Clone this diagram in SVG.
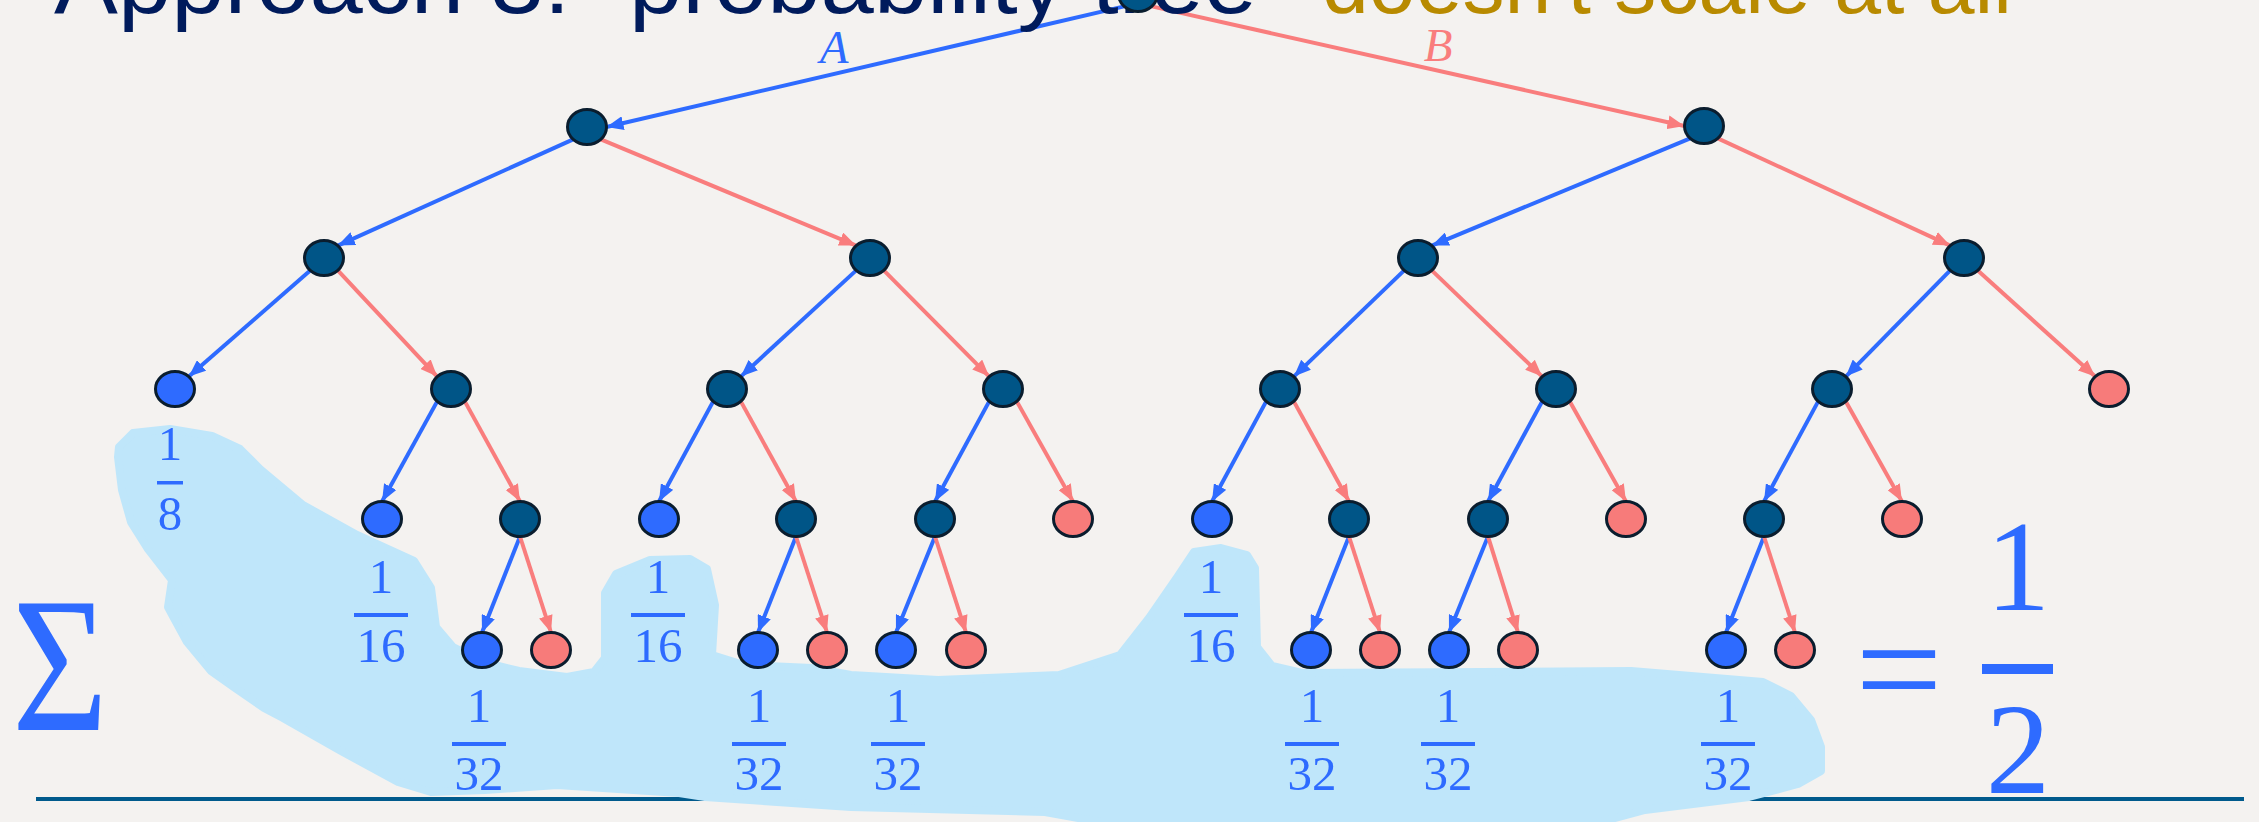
<svg xmlns="http://www.w3.org/2000/svg" width="2259" height="822" viewBox="0 0 2259 822">
<style>
.bg{fill:#F4F2F0}
.title{font-family:"Liberation Sans",Arial,sans-serif}
.navy{fill:#001B5C;font-size:91px}
.gold{fill:#B88A00;font-size:86px}
.eb{stroke:#2E6BFF;stroke-width:4;fill:none;marker-end:url(#ab)}
.ep{stroke:#F97D7D;stroke-width:4;fill:none;marker-end:url(#ap)}
.nd{fill:#005587;stroke:#0A1D2E;stroke-width:3}
.nb{fill:#2E6BFF;stroke:#0A1D2E;stroke-width:3}
.np{fill:#F77B7A;stroke:#0A1D2E;stroke-width:3}
.math{font-family:"Liberation Serif","Times New Roman",serif;fill:#2E6BFF}
.fr{font-size:49px;text-anchor:middle}
.bar{fill:#2E6BFF}
.hl{fill:#BFE6FA;stroke:#BFE6FA;stroke-width:8;stroke-linejoin:round}
.lab{font-family:"Liberation Serif","Times New Roman",serif;font-style:italic;font-size:47px;text-anchor:middle}
</style>
<defs>
<marker id="ab" markerUnits="userSpaceOnUse" markerWidth="18" markerHeight="14" refX="17" refY="7" orient="auto"><path d="M0,0 L17,7 L0,14 Z" fill="#2E6BFF"/></marker>
<marker id="ap" markerUnits="userSpaceOnUse" markerWidth="18" markerHeight="14" refX="17" refY="7" orient="auto"><path d="M0,0 L17,7 L0,14 Z" fill="#F97D7D"/></marker>
</defs>
<rect class="bg" x="0" y="0" width="2259" height="822"/>
<line x1="36" y1="799" x2="2244" y2="799" stroke="#005A8C" stroke-width="4"/>
<path id="highlight" class="hl" d="M118,457 L119,447 L133,433 L170,429 L212,436 L240,449 L260,469 L303,505 L357,535 L414,561 L431,588 L436,627 L453,647 L483,662 L519,671 L567,677 L594,672 L605,658 L605,593 L616,574 L650,560 L690,559 L707,569 L715,605 L712,655 L744,665 L812,668 L851,675 L938,680 L1059,675 L1120,655 L1149,618 L1178,576 L1194,552 L1221,548 L1247,555 L1255,568 L1257,647 L1272,666 L1302,673 L1631,671 L1763,682 L1791,696 L1811,720 L1821,747 L1821,771 L1798,784 L1749,797 L1645,810 L1600,822 L1100,822 L1045,812 L851,807 L705,797 L679,793 L557,785 L485,790 L431,792 L398,782 L341,751 L283,718 L264,708 L235,688 L211,671 L187,642 L175,620 L168,607 L172,580 L148,549 L131,522 L122,490 Z"/>
<g id="connectors">
<line class="eb" x1="1124.2" y1="6.4" x2="606.5" y2="127"/>
<line class="ep" x1="1151.8" y1="6.4" x2="1684.5" y2="126"/>
<line class="eb" x1="573.2" y1="139.4" x2="337.8" y2="245.6"/>
<line class="ep" x1="600.8" y1="139.4" x2="856.2" y2="245.6"/>
<line class="eb" x1="1690.2" y1="138.4" x2="1431.8" y2="245.6"/>
<line class="ep" x1="1717.8" y1="138.4" x2="1950.2" y2="245.6"/>
<line class="eb" x1="310.2" y1="270.4" x2="188.8" y2="376.6"/>
<line class="ep" x1="337.8" y1="270.4" x2="437.2" y2="376.6"/>
<line class="eb" x1="856.2" y1="270.4" x2="740.8" y2="376.6"/>
<line class="ep" x1="883.8" y1="270.4" x2="989.2" y2="376.6"/>
<line class="eb" x1="1404.2" y1="270.4" x2="1293.8" y2="376.6"/>
<line class="ep" x1="1431.8" y1="270.4" x2="1542.2" y2="376.6"/>
<line class="eb" x1="1950.2" y1="270.4" x2="1845.8" y2="376.6"/>
<line class="ep" x1="1977.8" y1="270.4" x2="2095.2" y2="376.6"/>
<line class="eb" x1="437.2" y1="401.4" x2="382" y2="501.5"/>
<line class="ep" x1="464.8" y1="401.4" x2="520" y2="501.5"/>
<line class="eb" x1="713.2" y1="401.4" x2="659" y2="501.5"/>
<line class="ep" x1="740.8" y1="401.4" x2="796" y2="501.5"/>
<line class="eb" x1="989.2" y1="401.4" x2="935" y2="501.5"/>
<line class="ep" x1="1016.8" y1="401.4" x2="1073" y2="501.5"/>
<line class="eb" x1="1266.2" y1="401.4" x2="1212" y2="501.5"/>
<line class="ep" x1="1293.8" y1="401.4" x2="1349" y2="501.5"/>
<line class="eb" x1="1542.2" y1="401.4" x2="1488" y2="501.5"/>
<line class="ep" x1="1569.8" y1="401.4" x2="1626" y2="501.5"/>
<line class="eb" x1="1818.2" y1="401.4" x2="1764" y2="501.5"/>
<line class="ep" x1="1845.8" y1="401.4" x2="1902" y2="501.5"/>
<line class="eb" x1="520" y1="536.5" x2="482" y2="632.5"/>
<line class="ep" x1="520" y1="536.5" x2="551" y2="632.5"/>
<line class="eb" x1="796" y1="536.5" x2="758" y2="632.5"/>
<line class="ep" x1="796" y1="536.5" x2="827" y2="632.5"/>
<line class="eb" x1="935" y1="536.5" x2="896" y2="632.5"/>
<line class="ep" x1="935" y1="536.5" x2="966" y2="632.5"/>
<line class="eb" x1="1349" y1="536.5" x2="1311" y2="632.5"/>
<line class="ep" x1="1349" y1="536.5" x2="1380" y2="632.5"/>
<line class="eb" x1="1488" y1="536.5" x2="1449" y2="632.5"/>
<line class="ep" x1="1488" y1="536.5" x2="1518" y2="632.5"/>
<line class="eb" x1="1764" y1="536.5" x2="1726" y2="632.5"/>
<line class="ep" x1="1764" y1="536.5" x2="1795" y2="632.5"/>
</g>
<g id="title" class="title">
<text class="navy" x="54" y="13" textLength="1235" lengthAdjust="spacingAndGlyphs">Approach 3: “probability tree”</text>
<text class="gold" x="1322" y="13" textLength="690" lengthAdjust="spacingAndGlyphs">doesn't scale at all</text>
</g>
<g id="edge-labels">
<text class="lab" x="834" y="63" fill="#2E6BFF">A</text>
<text class="lab" x="1438" y="61" fill="#F97D7D">B</text>
</g>
<g id="node-root"><ellipse class="nd" cx="1138" cy="-6" rx="19.5" ry="17.5"/></g>
<g id="node-A"><ellipse class="nd" cx="587" cy="127" rx="19.5" ry="17.5"/></g>
<g id="node-B"><ellipse class="nd" cx="1704" cy="126" rx="19.5" ry="17.5"/></g>
<g id="node-AA"><ellipse class="nd" cx="324" cy="258" rx="19.5" ry="17.5"/></g>
<g id="node-AB"><ellipse class="nd" cx="870" cy="258" rx="19.5" ry="17.5"/></g>
<g id="node-BA"><ellipse class="nd" cx="1418" cy="258" rx="19.5" ry="17.5"/></g>
<g id="node-BB"><ellipse class="nd" cx="1964" cy="258" rx="19.5" ry="17.5"/></g>
<g id="node-AAA"><ellipse class="nb" cx="175" cy="389" rx="19.5" ry="17.5"/></g>
<g id="node-AAB"><ellipse class="nd" cx="451" cy="389" rx="19.5" ry="17.5"/></g>
<g id="node-ABA"><ellipse class="nd" cx="727" cy="389" rx="19.5" ry="17.5"/></g>
<g id="node-ABB"><ellipse class="nd" cx="1003" cy="389" rx="19.5" ry="17.5"/></g>
<g id="node-BAA"><ellipse class="nd" cx="1280" cy="389" rx="19.5" ry="17.5"/></g>
<g id="node-BAB"><ellipse class="nd" cx="1556" cy="389" rx="19.5" ry="17.5"/></g>
<g id="node-BBA"><ellipse class="nd" cx="1832" cy="389" rx="19.5" ry="17.5"/></g>
<g id="node-BBB"><ellipse class="np" cx="2109" cy="389" rx="19.5" ry="17.5"/></g>
<g id="node-AABA"><ellipse class="nb" cx="382" cy="519" rx="19.5" ry="17.5"/></g>
<g id="node-AABB"><ellipse class="nd" cx="520" cy="519" rx="19.5" ry="17.5"/></g>
<g id="node-ABAA"><ellipse class="nb" cx="659" cy="519" rx="19.5" ry="17.5"/></g>
<g id="node-ABAB"><ellipse class="nd" cx="796" cy="519" rx="19.5" ry="17.5"/></g>
<g id="node-ABBA"><ellipse class="nd" cx="935" cy="519" rx="19.5" ry="17.5"/></g>
<g id="node-ABBB"><ellipse class="np" cx="1073" cy="519" rx="19.5" ry="17.5"/></g>
<g id="node-BAAA"><ellipse class="nb" cx="1212" cy="519" rx="19.5" ry="17.5"/></g>
<g id="node-BAAB"><ellipse class="nd" cx="1349" cy="519" rx="19.5" ry="17.5"/></g>
<g id="node-BABA"><ellipse class="nd" cx="1488" cy="519" rx="19.5" ry="17.5"/></g>
<g id="node-BABB"><ellipse class="np" cx="1626" cy="519" rx="19.5" ry="17.5"/></g>
<g id="node-BBAA"><ellipse class="nd" cx="1764" cy="519" rx="19.5" ry="17.5"/></g>
<g id="node-BBAB"><ellipse class="np" cx="1902" cy="519" rx="19.5" ry="17.5"/></g>
<g id="node-AABBA"><ellipse class="nb" cx="482" cy="650" rx="19.5" ry="17.5"/></g>
<g id="node-AABBB"><ellipse class="np" cx="551" cy="650" rx="19.5" ry="17.5"/></g>
<g id="node-ABABA"><ellipse class="nb" cx="758" cy="650" rx="19.5" ry="17.5"/></g>
<g id="node-ABABB"><ellipse class="np" cx="827" cy="650" rx="19.5" ry="17.5"/></g>
<g id="node-ABBAA"><ellipse class="nb" cx="896" cy="650" rx="19.5" ry="17.5"/></g>
<g id="node-ABBAB"><ellipse class="np" cx="966" cy="650" rx="19.5" ry="17.5"/></g>
<g id="node-BAABA"><ellipse class="nb" cx="1311" cy="650" rx="19.5" ry="17.5"/></g>
<g id="node-BAABB"><ellipse class="np" cx="1380" cy="650" rx="19.5" ry="17.5"/></g>
<g id="node-BABAA"><ellipse class="nb" cx="1449" cy="650" rx="19.5" ry="17.5"/></g>
<g id="node-BABAB"><ellipse class="np" cx="1518" cy="650" rx="19.5" ry="17.5"/></g>
<g id="node-BBAAA"><ellipse class="nb" cx="1726" cy="650" rx="19.5" ry="17.5"/></g>
<g id="node-BBAAB"><ellipse class="np" cx="1795" cy="650" rx="19.5" ry="17.5"/></g>
<g id="fractions" class="math">
<g><text class="fr" x="170" y="460">1</text><rect class="bar" x="157" y="481" width="26" height="3.5"/><text class="fr" x="170" y="530">8</text></g>
<g><text class="fr" x="381" y="593">1</text><rect class="bar" x="354" y="613" width="54" height="4"/><text class="fr" x="381" y="662">16</text></g>
<g><text class="fr" x="658" y="593">1</text><rect class="bar" x="631" y="613" width="54" height="4"/><text class="fr" x="658" y="662">16</text></g>
<g><text class="fr" x="1211" y="593">1</text><rect class="bar" x="1184" y="613" width="54" height="4"/><text class="fr" x="1211" y="662">16</text></g>
<g><text class="fr" x="479" y="722">1</text><rect class="bar" x="452" y="742" width="54" height="4"/><text class="fr" x="479" y="790">32</text></g>
<g><text class="fr" x="759" y="722">1</text><rect class="bar" x="732" y="742" width="54" height="4"/><text class="fr" x="759" y="790">32</text></g>
<g><text class="fr" x="898" y="722">1</text><rect class="bar" x="871" y="742" width="54" height="4"/><text class="fr" x="898" y="790">32</text></g>
<g><text class="fr" x="1312" y="722">1</text><rect class="bar" x="1285" y="742" width="54" height="4"/><text class="fr" x="1312" y="790">32</text></g>
<g><text class="fr" x="1448" y="722">1</text><rect class="bar" x="1421" y="742" width="54" height="4"/><text class="fr" x="1448" y="790">32</text></g>
<g><text class="fr" x="1728" y="722">1</text><rect class="bar" x="1701" y="742" width="54" height="4"/><text class="fr" x="1728" y="790">32</text></g>
</g>
<g id="sum" class="math">
<text x="12" y="730" font-size="193" textLength="96" lengthAdjust="spacingAndGlyphs">Σ</text>
<text x="1899" y="721" font-size="155" text-anchor="middle">=</text>
<text x="2018" y="610" font-size="129" text-anchor="middle">1</text>
<rect class="bar" x="1982" y="664" width="71" height="10"/>
<text x="2018" y="793" font-size="129" text-anchor="middle">2</text>
</g>
</svg>
